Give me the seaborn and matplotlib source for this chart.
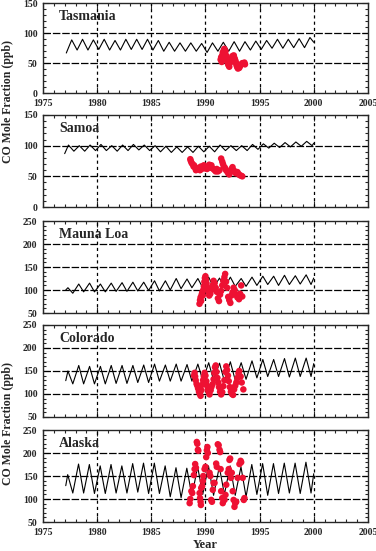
import numpy as np
import pandas as pd
import matplotlib
matplotlib.use("Agg")
import matplotlib.pyplot as plt
import seaborn as sns
from matplotlib.ticker import MultipleLocator

sns.set_style("ticks")
plt.rcParams["font.family"] = ["Liberation Serif", "DejaVu Serif"]
plt.rcParams["font.weight"] = "bold"

# station records: seasonal maxima / minima for each year 1977-1999 (ppb)
years = list(range(1977, 2000))

tas_peaks = [89, 90, 89, 90, 88, 90, 90, 90, 88, 85, 84, 84, 83, 84, 85, 86, 86, 87, 88, 90, 90, 91, 93]
tas_troughs = [67, 72, 72, 73, 72, 72, 73, 73, 72, 70, 70, 70, 70, 68, 70, 70, 70, 72, 73, 75, 75, 76, 76]

sam_peaks = [101, 100, 101, 102, 100, 101, 102, 101, 100, 99, 98, 98, 99, 99, 101, 100, 100, 102, 103, 104, 105, 106, 107]
sam_troughs = [91, 91, 92, 92, 91, 92, 93, 92, 90, 89, 89, 89, 90, 90, 92, 92, 92, 94, 96, 97, 98, 99, 100]

mlo_peaks = [105, 113, 115, 113, 115, 116, 117, 117, 120, 120, 125, 124, 125, 128, 126, 128, 125, 128, 130, 130, 132, 131, 133]
mlo_troughs = [93, 96, 96, 96, 97, 97, 98, 99, 98, 100, 103, 105, 105, 105, 104, 108, 108, 110, 112, 110, 112, 113, 112]

col_peaks = [150, 162, 160, 160, 162, 162, 162, 163, 165, 163, 165, 164, 165, 168, 167, 170, 168, 172, 175, 175, 177, 178, 178]
col_troughs = [122, 122, 122, 122, 123, 123, 125, 125, 128, 128, 128, 128, 130, 130, 128, 130, 132, 135, 138, 138, 137, 138, 138]

ak_peaks = [153, 176, 175, 172, 175, 172, 177, 178, 178, 172, 168, 167, 170, 172, 170, 172, 170, 175, 177, 177, 178, 178, 180]
ak_troughs = [113, 113, 112, 112, 113, 113, 115, 112, 112, 105, 103, 107, 110, 108, 110, 108, 105, 110, 108, 112, 113, 112, 113]

# first and last recorded values (ppb)
start_vals = {"Tasmania": None, "Samoa": 87, "Mauna Loa": 100, "Colorado": 129, "Alaska": 129}
end_vals = {"Tasmania": 85, "Samoa": 104, "Mauna Loa": 126, "Colorado": 166, "Alaska": 155}

# flask samples (red)
tas_dot_t = [1991.40, 1991.45, 1991.50, 1991.55, 1991.60, 1991.65, 1991.70, 1991.75, 1991.80, 1991.85,
             1991.90, 1991.95, 1992.00, 1992.05, 1992.10, 1992.15, 1992.20, 1992.25, 1992.30, 1992.35,
             1992.45, 1992.50, 1992.55, 1992.62, 1992.70, 1992.75, 1992.80, 1992.85, 1992.90, 1992.95,
             1993.00, 1993.05, 1993.12, 1993.20, 1993.30, 1993.40, 1993.50, 1993.60, 1993.65]
tas_dot_v = [56, 60, 52, 63, 68, 58, 72, 74, 66, 70,
             60, 62, 55, 52, 48, 46, 44, 50, 52, 56,
             58, 62, 60, 63, 58, 55, 52, 48, 45, 43,
             41, 44, 42, 45, 48, 50, 49, 51, 48]

sam_dot_t = [1988.60, 1988.65, 1988.72, 1988.80, 1988.90, 1988.95, 1989.05, 1989.12, 1989.20, 1989.30,
             1989.40, 1989.50, 1989.58, 1989.65, 1989.75, 1989.85, 1989.95, 1990.05, 1990.15, 1990.25,
             1990.35, 1990.45, 1990.55, 1990.65, 1990.75, 1990.85, 1990.95, 1991.05, 1991.15, 1991.30,
             1991.45, 1991.55, 1991.62, 1991.70, 1991.80, 1991.90, 1992.00, 1992.10, 1992.20, 1992.30,
             1992.40, 1992.50, 1992.60, 1992.70, 1992.80, 1992.95, 1993.05, 1993.15, 1993.30, 1993.40]
sam_dot_v = [78, 75, 72, 70, 66, 68, 64, 60, 63, 62,
             64, 60, 66, 62, 65, 68, 63, 65, 62, 66,
             69, 64, 68, 63, 62, 60, 58, 62, 58, 60,
             79, 74, 70, 66, 64, 60, 58, 55, 53, 57,
             62, 65, 60, 58, 55, 57, 54, 52, 51, 50]

mlo_dot_t = [1989.45, 1989.50, 1989.55, 1989.60, 1989.65, 1989.70, 1989.75, 1989.80, 1989.85, 1989.90,
             1989.95, 1990.00, 1990.05, 1990.10, 1990.20, 1990.30, 1990.35, 1990.45, 1990.55, 1990.65,
             1990.75, 1990.85, 1990.95, 1991.05, 1991.15, 1991.25, 1991.35, 1991.45, 1991.55, 1991.65,
             1991.75, 1991.82, 1991.90, 1992.00, 1992.10, 1992.20, 1992.30, 1992.40, 1992.50, 1992.60,
             1992.70, 1992.80, 1992.95, 1993.10, 1993.20, 1993.30, 1993.40]
mlo_dot_v = [70, 78, 84, 76, 90, 95, 88, 100, 108, 118,
             126, 130, 122, 115, 105, 95, 88, 92, 100, 110,
             120, 115, 105, 96, 82, 76, 90, 98, 110, 120,
             128, 135, 118, 105, 85, 78, 72, 88, 95, 105,
             100, 90, 84, 80, 92, 110, 86]

col_dot_t = [1988.95, 1989.00, 1989.05, 1989.10, 1989.18, 1989.25, 1989.32, 1989.40, 1989.48, 1989.55,
             1989.62, 1989.70, 1989.78, 1989.85, 1989.92, 1990.00, 1990.08, 1990.15, 1990.22, 1990.30,
             1990.38, 1990.48, 1990.55, 1990.65, 1990.75, 1990.82, 1990.88, 1990.95, 1991.02, 1991.10,
             1991.18, 1991.25, 1991.35, 1991.45, 1991.55, 1991.65, 1991.75, 1991.85, 1991.92, 1992.00,
             1992.08, 1992.15, 1992.25, 1992.35, 1992.45, 1992.55, 1992.65, 1992.75, 1992.85, 1992.95,
             1993.05, 1993.12, 1993.25, 1993.35, 1993.50]
col_dot_v = [140, 146, 138, 130, 122, 118, 112, 105, 100, 96,
             108, 120, 130, 138, 146, 140, 128, 118, 110, 104,
             99, 108, 115, 121, 132, 146, 158, 162, 148, 135,
             125, 115, 105, 99, 104, 117, 130, 148, 160, 152,
             140, 128, 115, 105, 100, 98, 110, 118, 125, 135,
             145, 150, 138, 125, 110]

ak_dot_t = [1988.54, 1988.60, 1988.70, 1988.78, 1988.84, 1988.93, 1989.00, 1989.05, 1989.12, 1989.20,
            1989.25, 1989.30, 1989.34, 1989.46, 1989.50, 1989.55, 1989.58, 1989.61, 1989.70, 1989.76,
            1989.80, 1989.92, 1990.00, 1990.07, 1990.13, 1990.18, 1990.22, 1990.38, 1990.45, 1990.53,
            1990.60, 1990.68, 1990.75, 1990.84, 1990.99, 1991.05, 1991.14, 1991.22, 1991.30, 1991.36,
            1991.40, 1991.45, 1991.55, 1991.60, 1991.76, 1991.85, 1991.92, 1992.06, 1992.15, 1992.22,
            1992.28, 1992.35, 1992.43, 1992.52, 1992.60, 1992.68, 1992.75, 1992.84, 1992.98, 1993.14,
            1993.25, 1993.30, 1993.44, 1993.54, 1993.60]
ak_dot_v = [91, 100, 117, 113, 128, 152, 165, 176, 168, 224,
            220, 207, 205, 113, 102, 94, 87, 124, 128, 139,
            150, 165, 170, 191, 206, 213, 200, 157, 150, 98,
            94, 120, 135, 135, 177, 170, 219, 217, 207, 202,
            165, 117, 102, 91, 98, 109, 131, 157, 165, 185,
            188, 146, 157, 117, 98, 83, 91, 94, 146, 176,
            183, 180, 146, 98, 102]

stations = ["Tasmania", "Samoa", "Mauna Loa", "Colorado", "Alaska"]
peaks = [tas_peaks, sam_peaks, mlo_peaks, col_peaks, ak_peaks]
troughs = [tas_troughs, sam_troughs, mlo_troughs, col_troughs, ak_troughs]
# timing of max / min within the year
peak_phase = [0.65, 0.35, 0.30, 0.30, 0.28]
trough_phase = [0.15, 0.85, 0.75, 0.75, 0.75]
start_time = [None, 1977.0, 1977.1, 1977.1, 1977.1]
dots_t = [tas_dot_t, sam_dot_t, mlo_dot_t, col_dot_t, ak_dot_t]
dots_v = [tas_dot_v, sam_dot_v, mlo_dot_v, col_dot_v, ak_dot_v]
ylims = [(0, 150), (0, 150), (50, 250), (50, 250), (50, 250)]

# axes boxes in figure fraction
bottoms = [0.8312, 0.6243, 0.4319, 0.2432, 0.0526]
heights = [0.1625, 0.167, 0.167, 0.167, 0.167]
red = "#ee1133"

fig = plt.figure(figsize=(3.76, 5.51), dpi=100)

for i, name in enumerate(stations):
    ax = fig.add_axes([0.1144, bottoms[i], 0.864, heights[i]])

    t = [y + peak_phase[i] for y in years] + [y + trough_phase[i] for y in years]
    v = list(peaks[i]) + list(troughs[i])
    if start_time[i] is not None:
        t.append(start_time[i])
        v.append(start_vals[name])
    t.append(2000.0)
    v.append(end_vals[name])
    line = pd.DataFrame({"year": t, "co": v})
    line = line[line["year"] <= 2000.0].sort_values("year").reset_index(drop=True)

    lo, hi = ylims[i]
    for yv in range(lo + 50, hi, 50):
        ax.axhline(yv, color="black", lw=0.9, dashes=(6, 1.5), zorder=1)
    for xv in range(1980, 2005, 5):
        ax.axvline(xv, color="black", lw=0.9, dashes=(2.5, 2.5), zorder=1)

    ax.plot(line["year"].to_numpy(), line["co"].to_numpy(), color="black",
            lw=0.8, zorder=2)
    dots = pd.DataFrame({"year": dots_t[i], "co": dots_v[i]})
    sns.scatterplot(data=dots, x="year", y="co", ax=ax, color=red, s=22,
                    edgecolor="none", zorder=3)

    ax.set_xlim(1975, 2005)
    ax.set_ylim(lo, hi)
    ax.xaxis.set_major_locator(MultipleLocator(5))
    ax.xaxis.set_minor_locator(MultipleLocator(1))
    ax.yaxis.set_major_locator(MultipleLocator(50))
    ax.yaxis.set_minor_locator(MultipleLocator(10))
    ax.tick_params(which="both", direction="in", top=True, right=True,
                   labelsize=7, width=0.8, pad=4)
    ax.tick_params(which="major", length=4)
    ax.tick_params(which="minor", length=2)
    for s in ax.spines.values():
        s.set_linewidth(1.0)
    ax.set_xlabel("")
    ax.set_ylabel("")
    if i not in (0, 4):
        ax.tick_params(axis="x", labelbottom=False)
    ax.text(0.05, 0.85, name, transform=ax.transAxes, fontsize=10,
            fontweight="bold", va="center", ha="left")
    if i == 4:
        ax.set_xlabel("Year", fontsize=9, fontweight="bold", labelpad=2)

fig.text(0.022, 0.815, "CO Mole Fraction (ppb)", rotation=90, fontsize=8.5,
         fontweight="bold", ha="center", va="center")
fig.text(0.022, 0.232, "CO Mole Fraction (ppb)", rotation=90, fontsize=8.5,
         fontweight="bold", ha="center", va="center")

fig.savefig("out.png", dpi=100)
